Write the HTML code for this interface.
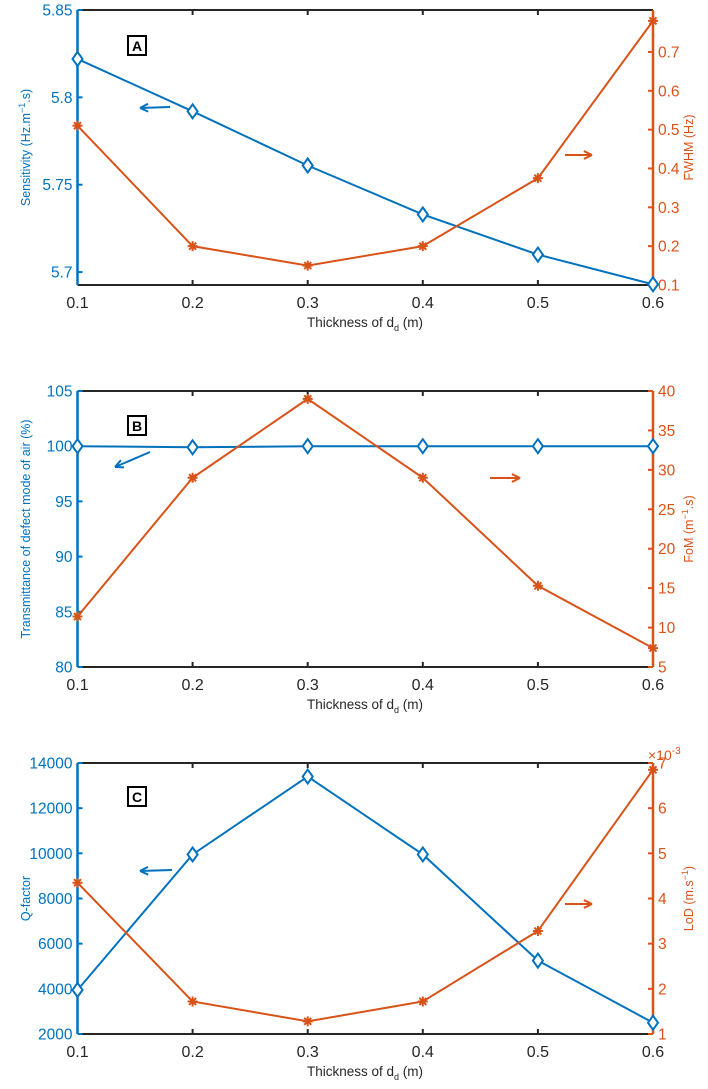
<!DOCTYPE html>
<html><head><meta charset="utf-8"><style>
body{margin:0;background:#fff;}
svg{display:block;font-family:"Liberation Sans",Arial,sans-serif;}
</style></head><body>
<svg id="fig" width="708" height="1089" viewBox="0 0 708 1089"></svg>
<script>
const xCategories=[0.1,0.2,0.3,0.4,0.5,0.6];
const xTickLabels=["0.1","0.2","0.3","0.4","0.5","0.6"];
const sensitivity=[5.822,5.792,5.761,5.733,5.710,5.693];
const fwhm=[0.51,0.20,0.15,0.20,0.375,0.78];
const transmittance=[100,99.9,100,100,100,100];
const fom=[11.4,29,39,29,15.3,7.4];
const qFactor=[3950,9950,13400,9950,5250,2500];
const lod=[4.35,1.72,1.28,1.72,3.28,6.85];
const leftTicksA=[5.7,5.75,5.8,5.85];
const leftTickLabelsA=["5.7","5.75","5.8","5.85"];
const rightTicksA=[0.1,0.2,0.3,0.4,0.5,0.6,0.7];
const leftTicksB=[80,85,90,95,100,105];
const rightTicksB=[5,10,15,20,25,30,35,40];
const leftTicksC=[2000,4000,6000,8000,10000,12000,14000];
const rightTicksC=[1,2,3,4,5,6,7];

const NS="http://www.w3.org/2000/svg";
const svg=document.getElementById('fig');
const BLUE="#0072BD",ORANGE="#D95319";
const X0=77.5,X1=653;
function mk(tag,attrs,parent){const e=document.createElementNS(NS,tag);for(const k in attrs)e.setAttribute(k,attrs[k]);(parent||svg).appendChild(e);return e;}
function xs(v){return X0+(v-0.1)/(0.5)*(X1-X0);}

const panels=[
 {id:"a",letter:"A",top:10,bot:285,lmin:5.6926,lmax:5.85,rmin:0.1,rmax:0.808,left:sensitivity,right:fwhm,
  lt:leftTicksA,ltl:leftTickLabelsA,rt:rightTicksA,rtl:rightTicksA.map(String),
  ylab:"Sensitivity (Hz.m<tspan dy='-5' font-size='9'>−1</tspan><tspan dy='5'>.s)</tspan>",rlab:"FWHM (Hz)",
  box:[128,36],la:[[170,107],[140,108]],ra:[[565,155],[592,155]]},
 {id:"b",letter:"B",top:391,bot:667,lmin:80,lmax:105,rmin:5,rmax:40,left:transmittance,right:fom,
  lt:leftTicksB,ltl:leftTicksB.map(String),rt:rightTicksB,rtl:rightTicksB.map(String),
  ylab:"Transmittance of defect mode of air (%)",rlab:"FoM (m<tspan dy='-5' font-size='9'>−1</tspan><tspan dy='5'>.s)</tspan>",
  box:[128,416],la:[[150,452],[115,467]],ra:[[490,478],[520,478]]},
 {id:"c",letter:"C",top:763,bot:1034,lmin:2000,lmax:14000,rmin:1,rmax:7,left:qFactor,right:lod,
  lt:leftTicksC,ltl:leftTicksC.map(String),rt:rightTicksC,rtl:rightTicksC.map(String),
  ylab:"Q-factor",rlab:"LoD (m.s<tspan dy='-5' font-size='9'>−1</tspan><tspan dy='5'>)</tspan>",
  box:[128,787],la:[[172,870],[140,871]],ra:[[565,904],[592,904]]}
];

panels.forEach(p=>{
 const g=mk('g',{});
 
 
 const ly=v=>p.bot-(v-p.lmin)/(p.lmax-p.lmin)*(p.bot-p.top);
 const ry=v=>p.bot-(v-p.rmin)/(p.rmax-p.rmin)*(p.bot-p.top);
 const frame=mk('path',{d:`M${X0},${p.top}H${X1}M${X0},${p.bot}H${X1}`,stroke:"#262626","stroke-width":2,fill:"none"},g);
 
 xCategories.forEach((c,i)=>{
  const x=xs(c);
  mk('line',{x1:x,x2:x,y1:p.bot,y2:p.bot-5,stroke:"#262626","stroke-width":2},g);
  mk('line',{x1:x,x2:x,y1:p.top,y2:p.top+5,stroke:"#262626","stroke-width":2},g);
  const t=mk('text',{x:x,y:p.bot+23,"font-size":16,fill:"#262626","text-anchor":"middle"},g);
  t.textContent=xTickLabels[i];
  
 });
 const xl=mk('text',{x:365,y:p.bot+42,"font-size":13.5,fill:"#262626","text-anchor":"middle"},g);
 xl.innerHTML="Thickness of d<tspan dy='4' font-size='9'>d</tspan><tspan dy='-4'> (m)</tspan>";
 
 const la=mk('line',{x1:X0,x2:X0,y1:p.top,y2:p.bot,stroke:BLUE,"stroke-width":2.5},g);
 
 p.lt.forEach((v,i)=>{
  const y=ly(v);
  mk('line',{x1:X0,x2:X0+5,y1:y,y2:y,stroke:BLUE,"stroke-width":2},g);
  const t=mk('text',{x:X0-5,y:y+5.5,"font-size":15.5,fill:BLUE,"text-anchor":"end"},g);
  t.textContent=p.ltl[i];
  
 });
 const lyT=mk('text',{transform:`translate(30,${(p.top+p.bot)/2}) rotate(-90)`,"font-size":12.5,fill:BLUE,"text-anchor":"middle"},g);
 lyT.innerHTML=p.ylab;
 
 const ra=mk('line',{x1:X1,x2:X1,y1:p.top,y2:p.bot,stroke:ORANGE,"stroke-width":2.5},g);
 
 p.rt.forEach((v,i)=>{
  const y=ry(v);
  mk('line',{x1:X1,x2:X1-5,y1:y,y2:y,stroke:ORANGE,"stroke-width":2},g);
  const t=mk('text',{x:X1+5,y:y+5.5,"font-size":15.5,fill:ORANGE},g);
  t.textContent=p.rtl[i];
  
 });
 const ryT=mk('text',{transform:`translate(${X1+40},${(p.top+p.bot)/2}) rotate(-90)`,"font-size":12.5,fill:ORANGE,"text-anchor":"middle"},g);
 ryT.innerHTML=p.rlab;
 
 if(p.id==="c"){
  const ex=mk('text',{x:X1-5,y:p.top-3,"font-size":14,fill:ORANGE},g);
  ex.innerHTML="×10<tspan dy='-6' font-size='10'>-3</tspan>";
  
 }
 const lp=mk('polyline',{points:p.left.map((v,i)=>xs(xCategories[i])+","+ly(v)).join(" "),fill:"none",stroke:BLUE,"stroke-width":2},g);
 
 p.left.forEach((v,i)=>{
  const x=xs(xCategories[i]),y=ly(v);
  const m=mk('path',{d:`M${x},${y-7}L${x+5},${y}L${x},${y+7}L${x-5},${y}Z`,fill:"#fff",stroke:BLUE,"stroke-width":2},g);
  
 });
 const rp=mk('polyline',{points:p.right.map((v,i)=>xs(xCategories[i])+","+ry(v)).join(" "),fill:"none",stroke:ORANGE,"stroke-width":2},g);
 
 p.right.forEach((v,i)=>{
  const x=xs(xCategories[i]),y=ry(v);
  const m=mk('path',{d:`M${x-5},${y}H${x+5}M${x},${y-5}V${y+5}M${x-3.5},${y-3.5}L${x+3.5},${y+3.5}M${x-3.5},${y+3.5}L${x+3.5},${y-3.5}`,stroke:ORANGE,"stroke-width":2},g);
  
 });
 [[p.la,BLUE,'left-axis-arrow'],[p.ra,ORANGE,'right-axis-arrow']].forEach(([a,c,n])=>{
  const [s,e]=a;const ang=Math.atan2(e[1]-s[1],e[0]-s[0]);
  const ag=mk('g',{},g);
  
  mk('line',{x1:s[0],y1:s[1],x2:e[0],y2:e[1],stroke:c,"stroke-width":2},ag);
  const h=9,w=0.45;
  mk('path',{d:`M${e[0]},${e[1]}L${e[0]-h*Math.cos(ang-w)},${e[1]-h*Math.sin(ang-w)}M${e[0]},${e[1]}L${e[0]-h*Math.cos(ang+w)},${e[1]-h*Math.sin(ang+w)}`,stroke:c,"stroke-width":2,fill:"none"},ag);
 });
 const bg=mk('g',{},g);
 
 mk('rect',{x:p.box[0],y:p.box[1],width:18,height:19,fill:"#fff",stroke:"#000","stroke-width":2},bg);
 const lt=mk('text',{x:p.box[0]+9,y:p.box[1]+15,"font-size":14,"font-weight":"bold","text-anchor":"middle",fill:"#000"},bg);
 lt.textContent=p.letter;
});
</script>
</body></html>
